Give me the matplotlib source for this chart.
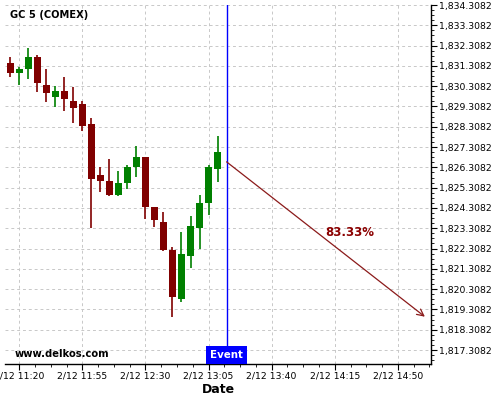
import numpy as np
import pandas as pd
import matplotlib
matplotlib.use("Agg")
import matplotlib.pyplot as plt
import matplotlib.dates as mdates
from matplotlib.ticker import FuncFormatter, AutoMinorLocator, FixedLocator

# DATA
times = pd.date_range("2020-02-12 11:15", periods=24, freq="5min")
opens = [1831.45, 1830.97, 1831.15, 1831.75, 1830.37, 1829.79, 1830.07, 1829.58,
         1829.43, 1828.44, 1825.93, 1825.64, 1824.95, 1825.54, 1826.33, 1826.82,
         1824.35, 1823.62, 1822.24, 1819.84, 1821.94, 1823.32, 1824.55, 1826.23]
highs = [1831.75, 1831.27, 1832.17, 1831.84, 1831.14, 1830.33, 1830.76, 1830.25,
         1829.58, 1828.73, 1826.31, 1826.70, 1826.11, 1826.42, 1827.36, 1826.82,
         1824.35, 1824.11, 1822.40, 1823.12, 1823.91, 1824.95, 1826.42, 1827.85]
lows = [1830.75, 1830.37, 1830.65, 1830.04, 1829.54, 1829.30, 1829.10, 1828.51,
        1828.11, 1823.30, 1825.11, 1824.90, 1824.90, 1825.23, 1825.82, 1823.78,
        1823.38, 1822.20, 1818.92, 1819.69, 1821.36, 1822.30, 1823.97, 1825.60]
closes = [1830.97, 1831.15, 1831.75, 1830.48, 1829.99, 1830.07, 1829.69, 1829.25,
          1828.35, 1825.73, 1825.65, 1824.95, 1825.54, 1826.33, 1826.82, 1824.35,
          1823.71, 1822.24, 1819.93, 1822.04, 1823.42, 1824.55, 1826.33, 1827.06]

event_time = pd.Timestamp("2020-02-12 13:15")
arrow_end_time = pd.Timestamp("2020-02-12 15:05")
arrow_start_price = 1826.58
arrow_end_price = 1818.95
probability = "83.33%"
symbol = "GC 5 (COMEX)"

xmin = pd.Timestamp("2020-02-12 11:12:06")
xmax = pd.Timestamp("2020-02-12 15:08:24")
ymin, ymax = 1816.62, 1834.3082

# PLOT
fig = plt.figure(figsize=(5, 4), dpi=100)
ax = fig.add_axes([0.01, 0.09, 0.852, 0.8975])

x = mdates.date2num(times)
width = 3.9 / (24 * 60)
for xi, o, h, l, c in zip(x, opens, highs, lows, closes):
    color = "#008000" if c >= o else "#800000"
    ax.vlines(xi, l, h, color=color, lw=1.2, zorder=3)
    ax.bar(xi, abs(c - o), width=width, bottom=min(o, c), color=color,
           edgecolor="none", zorder=4)

ex = mdates.date2num(event_time)
ax.axvline(ex, color="blue", lw=1, zorder=5)

ax.annotate("", xy=(mdates.date2num(arrow_end_time), arrow_end_price),
            xytext=(ex, arrow_start_price),
            arrowprops=dict(arrowstyle="->", color="#8b1a1a", lw=0.9,
                            mutation_scale=12, shrinkA=0, shrinkB=0), zorder=5)
ax.text(0.8097, 0.366, probability, transform=ax.transAxes, color="#8b0000",
        fontsize=8.5, fontweight="bold", ha="center", va="center")

ax.set_xlim(mdates.date2num(xmin), mdates.date2num(xmax))
ax.set_ylim(ymin, ymax)

major_x = pd.date_range("2020-02-12 11:20", periods=7, freq="35min")
ax.xaxis.set_major_locator(FixedLocator(mdates.date2num(major_x)))
ax.xaxis.set_major_formatter(mdates.DateFormatter("%-m/%d %H:%M"))
ax.xaxis.set_minor_locator(AutoMinorLocator(4))
ax.yaxis.set_major_locator(FixedLocator(np.arange(1817.3082, 1834.31, 1.0)))
ax.yaxis.set_minor_locator(AutoMinorLocator(4))
ax.yaxis.set_major_formatter(FuncFormatter(lambda v, p: f"{v:,.4f}"))
ax.yaxis.tick_right()

ax.tick_params(axis="both", which="major", labelsize=6.7, length=4, width=0.8, pad=1.5)
ax.tick_params(axis="both", which="minor", length=2, width=0.6)

ax.grid(True, which="major", color="#c8c8c8", linestyle=(0, (3, 3)), lw=0.7)
ax.set_axisbelow(True)
for s in ["top", "left"]:
    ax.spines[s].set_visible(False)
ax.spines["bottom"].set_linewidth(1.0)
ax.spines["right"].set_linewidth(1.0)

ax.set_xlabel("Date", fontsize=9, fontweight="bold", labelpad=2)

ax.text(0.012, 0.972, symbol, transform=ax.transAxes, fontsize=7.1,
        fontweight="bold", ha="left", va="center")
ax.text(0.023, 0.028, "www.delkos.com", transform=ax.transAxes, fontsize=7.2,
        fontweight="bold", ha="left", va="center")
ax.text(ex, 0.012, "Event", transform=ax.get_xaxis_transform(), fontsize=7.4,
        fontweight="bold", color="white", ha="center", va="bottom", zorder=6,
        bbox=dict(boxstyle="square,pad=0.38", facecolor="blue", edgecolor="none"))

fig.savefig("out.png", dpi=100)
